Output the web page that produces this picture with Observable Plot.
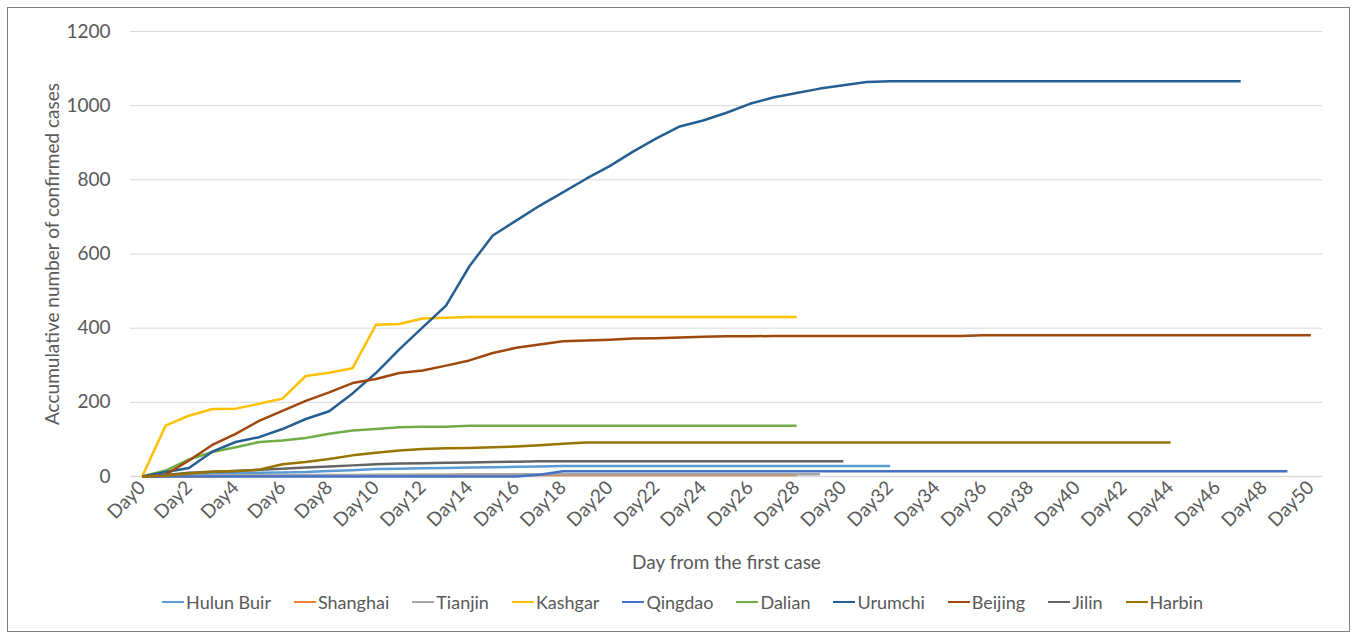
<!DOCTYPE html>
<html>
<head>
<meta charset="utf-8">
<script src="https://cdn.jsdelivr.net/npm/d3@7"></script>
<script src="https://cdn.jsdelivr.net/npm/@observablehq/plot@0.6"></script>
<style>
  body { margin: 0; background: #fff; font-family: Lato, sans-serif; }
  #frame { position: absolute; left: 7px; top: 7px; width: 1343px; height: 625px; border: 1px solid #7f7f7f; box-sizing: border-box; pointer-events: none; }
  #chart { position: absolute; left: 0; top: 0; }
  #legend { position: absolute; left: 0; top: 591px; width: 1357px; display: flex; justify-content: center; align-items: center; gap: 23px; font-size: 18px; color: #595959; padding-left: 8px; box-sizing: border-box; }
  .item { display: flex; align-items: center; }
  .sw { display: inline-block; width: 22px; height: 2.5px; margin-right: 2px; }
</style>
</head>
<body>
<div id="chart"></div>
<div id="legend"></div>
<div id="frame"></div>
<script>
const cities = ["Hulun Buir", "Shanghai", "Tianjin", "Kashgar", "Qingdao", "Dalian", "Urumchi", "Beijing", "Jilin", "Harbin"];
const colors = ["#5B9BD5", "#ED7D31", "#A5A5A5", "#FFC000", "#4472C4", "#70AD47", "#255E91", "#9E480E", "#636363", "#997300"];

const hulunBuir = [0,3,6,8,9,10,11,12,15,17,20,21,22,23,24,25,26,27,28,28,28,28,28,28,28,28,28,28,28,28,28,28,28];
const shanghai = [0,1,1,1,2,2,2,2,2,3,3,3,4,4,4,4,4,4,4,4,4,4,4,4,4,4,4,4,4];
const tianjin = [0,1,2,2,3,3,3,4,4,4,5,5,5,5,6,6,6,6,6,6,6,6,6,6,6,6,6,6,6,6];
const kashgar = [0,137,164,182,183,196,210,271,280,292,409,411,426,428,430,430,430,430,430,430,430,430,430,430,430,430,430,430,430];
const qingdao = [0,0,0,0,0,0,0,0,0,0,0,0,0,0,0,0,0,5,14,14,14,14,14,14,14,14,14,14,14,14,14,14,14,14,14,14,14,14,14,14,14,14,14,14,14,14,14,14,14,14];
const dalian = [0,16,46,66,79,93,97,104,115,124,128,133,134,134,137,137,137,137,137,137,137,137,137,137,137,137,137,137,137];
const urumchi = [0,12,23,67,93,106,128,155,176,224,279,343,402,461,567,650,690,730,766,803,837,876,912,944,960,981,1005,1022,1034,1046,1055,1064,1066,1066,1066,1066,1066,1066,1066,1066,1066,1066,1066,1066,1066,1066,1066,1066];
const beijing = [0,5,43,85,115,150,177,204,227,252,263,279,286,299,313,333,347,356,365,367,369,372,373,375,377,378,378,379,379,379,379,379,379,379,379,379,381,381,381,381,381,381,381,381,381,381,381,381,381,381,381];
const jilin = [0,4,10,13,15,18,21,24,27,30,33,35,36,37,38,39,40,41,41,41,41,41,41,41,41,41,41,41,41,41,41];
const harbin = [0,2,8,13,15,18,33,39,47,57,64,70,74,76,77,79,81,84,88,92,92,92,92,92,92,92,92,92,92,92,92,92,92,92,92,92,92,92,92,92,92,92,92,92,92];

const yTicks = [0, 200, 400, 600, 800, 1000, 1200];
const xTicks = d3.range(0, 51, 2);

const series = [hulunBuir, shanghai, tianjin, kashgar, qingdao, dalian, urumchi, beijing, jilin, harbin];
const rows = [];
series.forEach((vals, i) => vals.forEach((v, d) => rows.push({city: cities[i], day: d, value: v})));

const textColor = "#595959";
const chart = Plot.plot({
  width: 1357,
  height: 590,
  marginLeft: 130,
  marginRight: 35,
  marginTop: 31,
  marginBottom: 114,
  style: {fontFamily: "Lato, sans-serif", color: textColor, background: "transparent"},
  x: {domain: [-0.5, 50.5]},
  y: {domain: [0, 1200]},
  color: {domain: cities, range: colors},
  marks: [
    Plot.gridY(yTicks, {stroke: "#d9d9d9", strokeOpacity: 1, strokeWidth: 1}),
    Plot.axisY({ticks: yTicks, tickFormat: d => String(d), tickSize: 0, tickPadding: 20, fontSize: 19, label: null}),
    Plot.axisX({ticks: xTicks, tickFormat: d => `Day${d}`, tickRotate: -45, tickSize: 0, tickPadding: 8, fontSize: 19, label: null}),
    Plot.ruleY([0], {stroke: "#d9d9d9", strokeWidth: 1.5}),
    Plot.line(rows, {x: "day", y: "value", z: "city", stroke: "city", strokeWidth: 2.5, strokeLinejoin: "round", strokeLinecap: "butt"}),
    Plot.text(["Accumulative number of confirmed cases"], {frameAnchor: "left", dx: -78, rotate: -90, fontSize: 19, fill: textColor, textAnchor: "middle", lineAnchor: "middle"}),
    Plot.text(["Day from the first case"], {frameAnchor: "bottom", dy: 86, fontSize: 19, fill: textColor, textAnchor: "middle", lineAnchor: "middle"})
  ]
});
document.getElementById("chart").appendChild(chart);

const legend = document.getElementById("legend");
cities.forEach((c, i) => {
  const it = document.createElement("div");
  it.className = "item";
  const sw = document.createElement("span");
  sw.className = "sw";
  sw.style.background = colors[i];
  const t = document.createElement("span");
  t.textContent = c;
  it.appendChild(sw); it.appendChild(t);
  legend.appendChild(it);
});
</script>
</body>
</html>
